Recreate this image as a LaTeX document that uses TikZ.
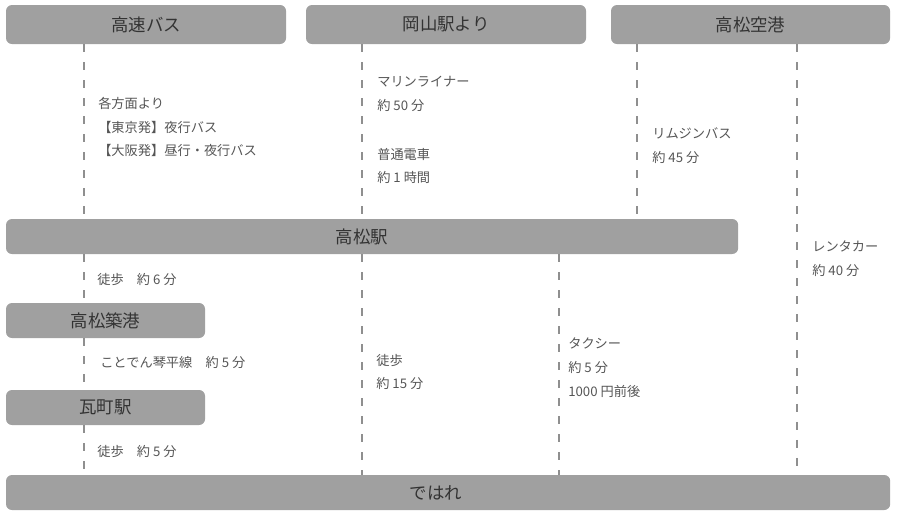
\documentclass[tikz,border=0pt]{standalone}
\usepackage{fontspec}
\setmainfont{Noto Sans CJK JP}
\usepackage{tikz}
\usetikzlibrary{positioning}

\definecolor{boxgray}{HTML}{A0A0A0}
\definecolor{linegray}{HTML}{8F8F8F}
\definecolor{titlegray}{HTML}{333333}
\definecolor{notegray}{HTML}{555555}

\tikzset{
  station/.style={fill=boxgray, rounded corners=0.15cm, inner sep=0pt, outer sep=0pt,
    anchor=north west, text=titlegray, font=\fontsize{12.4}{14}\selectfont},
  stname/.style={text=titlegray, font=\fontsize{12.4}{14}\selectfont, inner sep=0pt},
  note/.style={text=notegray, font=\fontsize{9.4}{17}\selectfont, align=left,
    anchor=west, inner sep=0pt},
  route/.style={linegray, line width=2.1pt, dash pattern=on 5.7pt off 7.1pt}
}

\begin{document}
\begin{tikzpicture}[x=0.025cm, y=-0.025cm]
        \useasboundingbox (0,0) rectangle (897,513);

        % columns of the dashed lines
        \coordinate (lA) at (84,0);
        \coordinate (lB) at (362,0);
        \coordinate (lC) at (637,0);
        \coordinate (lD) at (797,0);
        \coordinate (lE) at (559,0);

        % boxes
        \node[station, minimum width=7cm, minimum height=0.975cm] (kosoku) at (6,5) {高速バス};
        \node[station, minimum width=7cm, minimum height=0.975cm] (okayama) at (306,5) {岡山駅より};
        \node[station, minimum width=6.975cm, minimum height=0.975cm] (kuko) at (611,5) {高松空港};
        \node[station, minimum width=18.3cm, minimum height=0.875cm] (eki) at (6,219) {};
        \node[station, minimum width=4.975cm, minimum height=0.875cm] (chikko) at (6,303) {高松築港};
        \node[station, minimum width=4.975cm, minimum height=0.875cm] (kawara) at (6,390) {瓦町駅};
        \node[station, minimum width=22.1cm, minimum height=0.875cm] (dehare) at (6,475) {};
        \node[stname] (ekiname) at (362,237) {高松駅};
        \node[stname] (dehname) at (436,493) {ではれ};

        % routes
        \draw[route] (kosoku.south -| lA) -- (eki.north -| lA);
        \draw[route] (okayama.south -| lB) -- (eki.north -| lB);
        \draw[route] (kuko.south -| lC) -- (eki.north -| lC);
        \draw[route] (kuko.south -| lD) -- (dehare.north -| lD);
        \draw[route] (eki.south -| lA) -- (chikko.north -| lA);
        \draw[route] (chikko.south -| lA) -- (kawara.north -| lA);
        \draw[route] (kawara.south -| lA) -- (dehare.north -| lA);
        \draw[route] (eki.south -| lB) -- (dehare.north -| lB);
        \draw[route] (eki.south -| lE) -- (dehare.north -| lE);

        % notes
        \node[note] (n1) at (98,127) {各方面より\\【東京発】夜行バス\\【大阪発】昼行・夜行バス};
        \node[note] (n2) at (377,94) {マリンライナー\\約 50 分};
        \node[note] (n3) at (377,166) {普通電車\\約 1 時間};
        \node[note] (n4) at (652,146) {リムジンバス\\約 45 分};
        \node[note] (n5) at (812,259) {レンタカー\\約 40 分};
        \node[note] (n6) at (97,280) {徒歩　約 6 分};
        \node[note] (n7) at (100,363) {ことでん琴平線　約 5 分};
        \node[note] (n8) at (97,452) {徒歩　約 5 分};
        \node[note] (n9) at (376,372) {徒歩\\約 15 分};
        \node[note] (n10) at (568,368) {タクシー\\約 5 分\\1000 円前後};
    \end{tikzpicture}
\end{document}
